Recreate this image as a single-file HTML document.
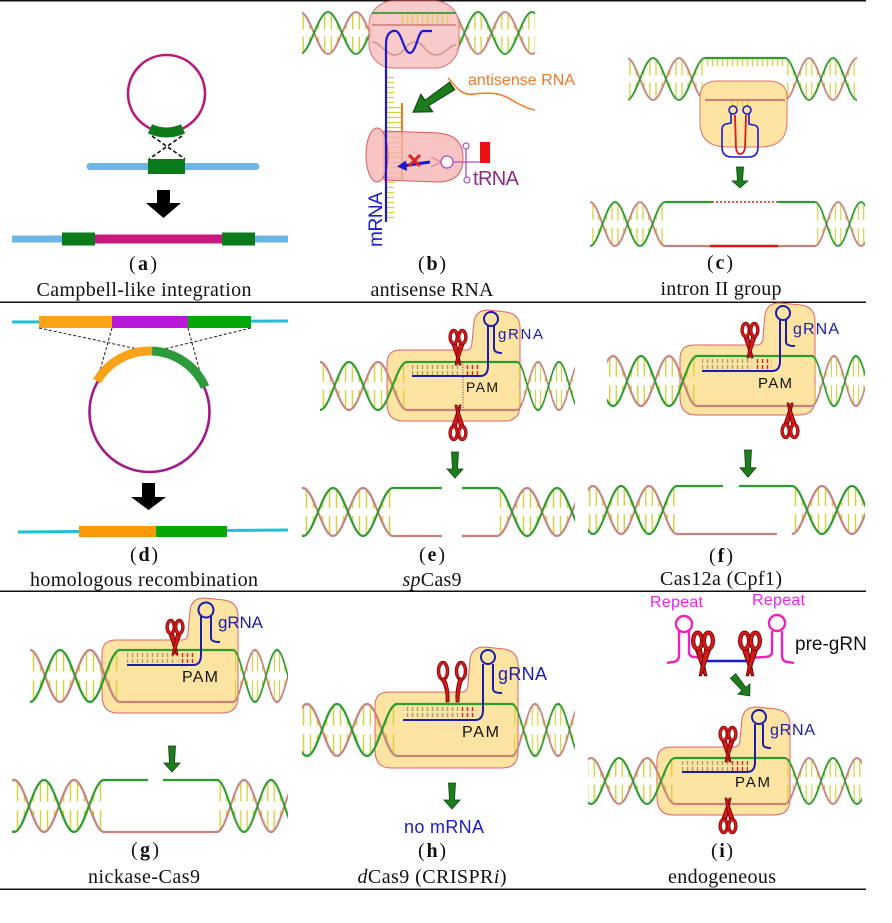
<!DOCTYPE html>
<html><head><meta charset="utf-8">
<style>
html,body{margin:0;padding:0;background:#fff}
svg{display:block}
.cap{font-family:"Liberation Serif",serif;font-size:20px;text-anchor:middle;fill:#111}
.sans{font-family:"Liberation Sans",sans-serif}
</style></head>
<body>
<svg width="892" height="923" viewBox="0 0 892 923" xmlns="http://www.w3.org/2000/svg">
<defs>
<pattern id="hx" patternUnits="userSpaceOnUse" x="0" y="0" width="60" height="52">
 <path d="M3.5,5V22M3.5,30V47M10.5,16V22M10.5,30V36M19.5,16V22M19.5,30V36M26.5,5V22M26.5,30V47M33.5,5V22M33.5,30V47M40.5,16V22M40.5,30V36M49.5,16V22M49.5,30V36M56.5,5V22M56.5,30V47" stroke="#d6d23a" stroke-width="1.5"/>
 <path d="M0,50C10.9,50 19.1,2 30,2C40.9,2 49.1,50 60,50" fill="none" stroke="#c4847c" stroke-width="2.2"/>
 <path d="M0,2C10.9,2 19.1,50 30,50C40.9,50 49.1,2 60,2" fill="none" stroke="#2c9c2c" stroke-width="2.2"/>
</pattern>
<pattern id="vo" patternUnits="userSpaceOnUse" width="5" height="40"><path d="M2.5,0V40" stroke="#a99d6c" stroke-width="1.4"/></pattern>
<pattern id="vr" patternUnits="userSpaceOnUse" width="5" height="40"><path d="M2.5,0V40" stroke="#d42424" stroke-width="1.4"/></pattern>
<pattern id="vy" patternUnits="userSpaceOnUse" width="5" height="40"><path d="M2.5,0V40" stroke="#d6d23a" stroke-width="1.4"/></pattern>
<pattern id="hy" patternUnits="userSpaceOnUse" width="40" height="5"><path d="M0,2.5H40" stroke="#d6d23a" stroke-width="1.2"/></pattern>
<g id="sc">
 <path d="M-6.5,13 L-1.5,13 L3,35 L1.2,35 Z" fill="#d41a1a" stroke="#6e0000" stroke-width=".8"/>
 <path d="M6.5,13 L1.5,13 L-3,35 L-1.2,35 Z" fill="#d41a1a" stroke="#6e0000" stroke-width=".8"/>
 <ellipse cx="-4.3" cy="7" rx="3.6" ry="6.5" fill="none" stroke="#7a0000" stroke-width="3.4"/>
 <ellipse cx="-4.3" cy="7" rx="3.6" ry="6.5" fill="none" stroke="#d41a1a" stroke-width="2"/>
 <ellipse cx="4.3" cy="7" rx="3.6" ry="6.5" fill="none" stroke="#7a0000" stroke-width="3.4"/>
 <ellipse cx="4.3" cy="7" rx="3.6" ry="6.5" fill="none" stroke="#d41a1a" stroke-width="2"/>
</g>
<path id="ga" d="M-3.5,0 L3.5,0 L2.5,17 L8,17 L0,26 L-8,17 L-2.5,17 Z" fill="#1e7b1e" stroke="#0b4a0b" stroke-width="0.8"/>
<clipPath id="clipR"><rect x="0" y="0" width="866" height="923"/></clipPath>
</defs>

<!-- separators -->
<rect x="0" y="0" width="866" height="1.5" fill="#111"/>
<rect x="0" y="301.5" width="866" height="1.5" fill="#111"/>
<rect x="0" y="590.5" width="866" height="1.5" fill="#111"/>
<rect x="0" y="888.5" width="866" height="1.5" fill="#111"/>

<!-- ===== (a) ===== -->
<circle cx="166.5" cy="93.5" r="38.5" fill="none" stroke="#b8177c" stroke-width="2.6"/>
<path d="M150,128.8 A39,39 0 0 0 183,128.8" fill="none" stroke="#0d7a1a" stroke-width="10"/>
<path d="M152,136 L185,159 M182,136 L149,159" stroke="#111" stroke-width="1.6" stroke-dasharray="4,2.5" fill="none"/>
<path d="M90,166.5 H256" stroke="#6cb6e6" stroke-width="7" stroke-linecap="round"/>
<rect x="148" y="159" width="37" height="15" fill="#0b7a1b"/>
<path d="M157,190 L170,190 L170,203 L181,203 L163.5,218 L146,203 L157,203 Z" fill="#000"/>
<path d="M12,239 H288" stroke="#6cb6e6" stroke-width="7"/>
<rect x="95" y="234.5" width="127" height="9" fill="#c8197c"/>
<rect x="62" y="232.5" width="33" height="13" fill="#0b7a1b"/>
<rect x="222" y="232.5" width="33" height="13" fill="#0b7a1b"/>
<text class="cap" x="143" y="270" textLength="28">(<tspan font-weight="bold">a</tspan>)</text>
<text class="cap" x="144" y="296" textLength="215">Campbell-like integration</text>

<!-- ===== (b) ===== -->
<g transform="translate(328,10.25) scale(0.933,0.875)"><rect x="-27.9" y="0" width="75" height="52" fill="url(#hx)"/></g>
<g transform="translate(478,10.25) scale(0.9,0.875)"><rect x="-24.4" y="0" width="87.8" height="52" fill="url(#hx)"/></g>
<rect x="369" y="1" width="90" height="67" rx="24" fill="#f7c3c3" fill-opacity="0.88" stroke="#e07070" stroke-width="1"/>
<path d="M372,13 H456" stroke="#2c9c2c" stroke-width="2" opacity=".85"/>
<path d="M372,25 H456" stroke="#c86a6a" stroke-width="1.6" opacity=".85"/>
<rect x="400" y="14" width="52" height="10" fill="url(#vy)" opacity=".8"/>
<path d="M372,42 C380,42 386,55 395,55 C404,55 406,42 415,42 C424,42 426,55 436,55 C444,55 450,45 456,45" fill="none" stroke="#c88a84" stroke-width="1.6" opacity=".8"/>
<rect x="387" y="75" width="7" height="145" fill="url(#hy)"/>
<rect x="387" y="104" width="14" height="76" fill="url(#hy)"/>
<path d="M402,103 V180" stroke="#f07a28" stroke-width="2"/>
<path d="M384,131 L438,133 Q463,135 463,158 Q463,182 438,182 L384,180 Z" fill="#f6b4b4" fill-opacity=".8" stroke="#dd5a5a" stroke-width="1"/>
<ellipse cx="377" cy="155" rx="11" ry="27" fill="#f6b4b4" fill-opacity=".8" stroke="#dd5a5a" stroke-width="1"/>
<path d="M386,222 L386,44 C386,34 391,30 396,31 C402,33 404,53 410,53 C416,53 418,31 423,31 C427,31 430,31 432,31" fill="none" stroke="#1a1acc" stroke-width="2.2"/>
<path d="M430,162 L402,166" stroke="#1a1acc" stroke-width="3"/>
<path d="M397,166.5 L406,160.5 L407,171 Z" fill="#1a1acc"/>
<path d="M409,155 L420,166 M420,155 L409,166" stroke="#e02222" stroke-width="3"/>
<path d="M441,162 L431,157 M441,162 L431,167" stroke="#e080a0" stroke-width="1"/>
<path d="M453,162 H480 M466,149 V177" stroke="#b04cc0" stroke-width="1.3"/>
<circle cx="447" cy="162" r="6" fill="#fff" stroke="#b04cc0" stroke-width="1.3"/>
<circle cx="466" cy="146" r="3" fill="#fff" stroke="#b04cc0" stroke-width="1.2"/>
<circle cx="467" cy="180" r="3" fill="#fff" stroke="#b04cc0" stroke-width="1.2"/>
<rect x="480" y="142" width="10" height="21" fill="#ee1111"/>
<use href="#ga" transform="translate(452,86) rotate(56) scale(1.3,1.8)"/>
<path d="M448,78 C456,86 460,96 474,94 C490,92 500,93 510,99 C520,105 528,109 535,110" fill="none" stroke="#f07a28" stroke-width="1.5"/>
<text class="sans" x="468" y="85" font-size="16" fill="#f07a28" textLength="107">antisense RNA</text>
<text class="sans" x="473" y="185" font-size="20" fill="#8a2a8a" textLength="46">tRNA</text>
<text class="sans" transform="translate(382,247) rotate(-90)" x="0" y="0" font-size="19" fill="#1a1acc" textLength="55">mRNA</text>
<text class="cap" x="432" y="270" textLength="28">(<tspan font-weight="bold">b</tspan>)</text>
<text class="cap" x="432" y="296" textLength="123">antisense RNA</text>

<!-- ===== (c) ===== -->
<g transform="translate(705,56.25) scale(0.867,0.875)"><rect x="-88.8" y="0" width="88.8" height="52" fill="url(#hx)"/></g>
<g transform="translate(785,56.25) scale(0.8,0.875)"><rect x="0" y="0" width="90" height="52" fill="url(#hx)"/></g>
<path d="M700,97 Q700,82 716,81 L770,81 Q787,82 787,97 L787,122 Q787,147 760,147 L727,147 Q700,147 700,122 Z" fill="#fde4a2" stroke="#e07070" stroke-width="1"/>
<path d="M705,58 H785" stroke="#2c9c2c" stroke-width="2.2"/>
<path d="M705,100 H785" stroke="#c4847c" stroke-width="2.2"/>
<rect x="707" y="59" width="76" height="7" fill="url(#vy)"/>
<rect x="728" y="101" width="24" height="6" fill="url(#vy)"/>
<path d="M731,114 L731,123 L726,124 Q722,125 722,130 L722,147 Q722,157 732,157 L749,157 Q758,157 758,147 L758,130 Q758,125 753,125 L749,124 L749,114" fill="none" stroke="#1a1acc" stroke-width="1.6"/>
<circle cx="733" cy="110" r="4" fill="none" stroke="#1a1acc" stroke-width="1.6"/>
<circle cx="747" cy="110" r="4" fill="none" stroke="#1a1acc" stroke-width="1.6"/>
<path d="M735,115 L736,148 Q737,154 740,154 Q744,154 745,148 L746,115" fill="none" stroke="#e01818" stroke-width="1.8"/>
<use href="#ga" transform="translate(740,167) scale(1,0.81)"/>
<g transform="translate(665,200.2) scale(0.833,0.917)"><rect x="-90" y="0" width="90" height="52" fill="url(#hx)"/></g>
<g transform="translate(815,200.2) scale(0.767,0.917)"><rect x="0" y="0" width="65.2" height="52" fill="url(#hx)"/></g>
<path d="M665,202 H712 M778,202 H815" stroke="#2c9c2c" stroke-width="2.2"/>
<path d="M712,202 H778" stroke="#e02020" stroke-width="1.6" stroke-dasharray="2,2"/>
<path d="M665,246 H710 M778,246 H815" stroke="#c4847c" stroke-width="2.2"/>
<path d="M710,246 H778" stroke="#dd1515" stroke-width="2.6"/>
<text class="cap" x="720" y="269" textLength="26">(<tspan font-weight="bold">c</tspan>)</text>
<text class="cap" x="721" y="295" textLength="121">intron II group</text>

<!-- ===== (d) ===== -->
<path d="M12,322 L288,321" stroke="#20c0d8" stroke-width="3"/>
<rect x="39" y="316" width="73" height="12" fill="#fba418"/>
<rect x="112" y="316" width="76" height="12" fill="#b818d8"/>
<rect x="188" y="316" width="63" height="12" fill="#06a806"/>
<path d="M39,328 L152,352 M112,328 L97,381 M188,328 L204,387 M251,328 L152,352" stroke="#222" stroke-width="1" stroke-dasharray="3,2" fill="none"/>
<circle cx="149.5" cy="412" r="60" fill="none" stroke="#a01a8a" stroke-width="2.6"/>
<path d="M97,381 A61,61 0 0 1 152,351" fill="none" stroke="#f8a21a" stroke-width="9"/>
<path d="M152,351 A61,61 0 0 1 205,387" fill="none" stroke="#2b9a3a" stroke-width="9"/>
<path d="M142,483 L155,483 L155,497 L166,497 L148.5,510 L131,497 L142,497 Z" fill="#000"/>
<path d="M18,532 L288,530" stroke="#20c0d8" stroke-width="3"/>
<rect x="79" y="526" width="77" height="11" fill="#fb9a08"/>
<rect x="156" y="526" width="71" height="11" fill="#06a806"/>
<text class="cap" x="144" y="561" textLength="28">(<tspan font-weight="bold">d</tspan>)</text>
<text class="cap" x="144" y="586" textLength="228">homologous recombination</text>

<!-- ===== (e) ===== -->
<path d="M401,350 L466,350 Q472,350 472,342 L474,322 Q476,310 488,310 L506,312 Q520,314 520,328 L520,405 Q520,421 504,421 L403,421 Q387,421 387,403 L387,364 Q387,350 401,350 Z" fill="#fde4a2" stroke="#e0606a" stroke-width="1"/>
<g transform="translate(407,360) scale(0.967,1)"><rect x="-90" y="0" width="90" height="52" fill="url(#hx)"/></g>
<g transform="translate(517,360) scale(0.7,1)"><rect x="0" y="0" width="82.9" height="52" fill="url(#hx)"/></g>
<path d="M407,362 H517" stroke="#2c9c2c" stroke-width="2.2"/>
<path d="M407,410 H517" stroke="#c4847c" stroke-width="2.2"/>
<rect x="412" y="365" width="50" height="4" fill="url(#vo)"/>
<rect x="412" y="371" width="50" height="4" fill="url(#vo)"/>
<rect x="464" y="365" width="17" height="4" fill="url(#vr)"/>
<rect x="464" y="371" width="17" height="4" fill="url(#vr)"/>
<path d="M412,376 L480,376 Q488,376 488,366 L488,326 M494,326 L494,348 Q494,353 502,353" fill="none" stroke="#1c1caa" stroke-width="2"/>
<circle cx="491" cy="319" r="7" fill="none" stroke="#1c1caa" stroke-width="2"/>
<path d="M463,362 V410" stroke="#222" stroke-width="0.8" stroke-dasharray="1,1.5"/>
<text class="sans" x="466" y="392" font-size="14" fill="#111" textLength="32">PAM</text>
<text class="sans" x="498" y="339" font-size="15" fill="#1c1caa" textLength="45">gRNA</text>
<use href="#sc" transform="translate(458,330)"/>
<use href="#sc" transform="translate(458,440) scale(1,-1)"/>
<use href="#ga" transform="translate(455,452)"/>
<g transform="translate(393,486)"><rect x="-91" y="0" width="91" height="52" fill="url(#hx)"/></g>
<g transform="translate(497,486)"><rect x="0" y="0" width="78" height="52" fill="url(#hx)"/></g>
<path d="M393,488 H442 M462,488 H497" stroke="#2c9c2c" stroke-width="2.2"/>
<path d="M393,536 H442 M462,536 H497" stroke="#c4847c" stroke-width="2.2"/>
<text class="cap" x="432" y="561" textLength="26">(<tspan font-weight="bold">e</tspan>)</text>
<text class="cap" x="432" y="586" textLength="59"><tspan font-style="italic">sp</tspan>Cas9</text>

<!-- ===== (f) ===== -->
<path d="M694,345 L757,345 Q763,345 763,337 L765,315 Q767,303 779,303 L801,305 Q815,307 815,321 L815,399 Q815,415 799,415 L696,415 Q680,415 680,397 L680,359 Q680,345 694,345 Z" fill="#fde4a2" stroke="#e0606a" stroke-width="1"/>
<g transform="translate(697,353.9) scale(0.933,1.042)"><rect x="-96.5" y="0" width="96.5" height="52" fill="url(#hx)"/></g>
<g transform="translate(812,353.9) scale(0.733,1.042)"><rect x="0" y="0" width="72.3" height="52" fill="url(#hx)"/></g>
<path d="M697,356 H812" stroke="#2c9c2c" stroke-width="2.2"/>
<path d="M697,406 H812" stroke="#c4847c" stroke-width="2.2"/>
<rect x="702" y="359" width="50" height="4" fill="url(#vo)"/>
<rect x="702" y="365" width="50" height="4" fill="url(#vo)"/>
<rect x="754" y="359" width="18" height="4" fill="url(#vr)"/>
<rect x="754" y="365" width="18" height="4" fill="url(#vr)"/>
<path d="M702,371 L772,371 Q780,371 780,361 L780,320 M786,320 L786,342 Q786,346 795,346" fill="none" stroke="#1c1caa" stroke-width="2"/>
<circle cx="783" cy="313" r="7" fill="none" stroke="#1c1caa" stroke-width="2"/>
<text class="sans" x="758" y="388" font-size="15" fill="#111" textLength="34">PAM</text>
<text class="sans" x="793" y="334" font-size="16" fill="#1c1caa" textLength="46">gRNA</text>
<use href="#sc" transform="translate(750,323)"/>
<use href="#sc" transform="translate(790,438) scale(1,-1)"/>
<use href="#ga" transform="translate(748,450) scale(1,1.05)"/>
<g transform="translate(677,484) scale(0.933,1)"><rect x="-95.4" y="0" width="95.4" height="52" fill="url(#hx)"/></g>
<g transform="translate(792,484)"><rect x="0" y="0" width="73" height="52" fill="url(#hx)"/></g>
<path d="M677,486 H723 M739,486 H792" stroke="#2c9c2c" stroke-width="2.2"/>
<path d="M677,534 H777" stroke="#c4847c" stroke-width="2.2"/>
<text class="cap" x="721" y="562" textLength="24">(<tspan font-weight="bold">f</tspan>)</text>
<text class="cap" x="721" y="585" textLength="122">Cas12a (Cpf1)</text>

<!-- ===== (g) ===== -->
<path d="M116,640 L182,640 Q188,640 188,632 L190,610 Q192,598 204,598 L224,600 Q238,602 238,616 L238,697 Q238,713 222,713 L118,713 Q102,713 102,695 L102,654 Q102,640 116,640 Z" fill="#fde4a2" stroke="#e0606a" stroke-width="1"/>
<g transform="translate(120,647.8) scale(1,1.083)"><rect x="-90" y="0" width="90" height="52" fill="url(#hx)"/></g>
<g transform="translate(233,647.8) scale(0.733,1.083)"><rect x="0" y="0" width="75" height="52" fill="url(#hx)"/></g>
<path d="M120,650 H233" stroke="#2c9c2c" stroke-width="2.2"/>
<path d="M120,702 H233" stroke="#c4847c" stroke-width="2.2"/>
<rect x="127" y="653" width="50" height="4" fill="url(#vo)"/>
<rect x="127" y="659" width="50" height="4" fill="url(#vo)"/>
<rect x="178" y="653" width="17" height="4" fill="url(#vr)"/>
<rect x="178" y="659" width="17" height="4" fill="url(#vr)"/>
<path d="M127,665 L193,665 Q201,665 201,655 L201,616 M211,616 L211,638 Q211,642 220,642" fill="none" stroke="#1c1caa" stroke-width="2"/>
<circle cx="206" cy="610" r="7.5" fill="none" stroke="#1c1caa" stroke-width="2"/>
<text class="sans" x="182" y="682" font-size="16" fill="#111" textLength="36">PAM</text>
<text class="sans" x="218" y="628" font-size="17" fill="#1c1caa" textLength="45">gRNA</text>
<use href="#sc" transform="translate(175,620)"/>
<use href="#ga" transform="translate(172,746)"/>
<g transform="translate(104,777.8) scale(1,1.083)"><rect x="-92" y="0" width="92" height="52" fill="url(#hx)"/></g>
<g transform="translate(217,777.8) scale(0.9,1.083)"><rect x="0" y="0" width="78.9" height="52" fill="url(#hx)"/></g>
<path d="M104,780 H148 M163,780 H217" stroke="#2c9c2c" stroke-width="2.2"/>
<path d="M104,832 H217" stroke="#c4847c" stroke-width="2.2"/>
<text class="cap" x="145" y="856" textLength="28">(<tspan font-weight="bold">g</tspan>)</text>
<text class="cap" x="144" y="883" textLength="112">nickase-Cas9</text>

<!-- ===== (h) ===== -->
<path d="M389,692 L462,692 Q468,692 468,684 L470,659 Q472,647 484,647 L504,649 Q518,651 518,665 L518,752 Q518,768 502,768 L391,768 Q375,768 375,750 L375,706 Q375,692 389,692 Z" fill="#fde4a2" stroke="#e0606a" stroke-width="1"/>
<g transform="translate(397,701.8) scale(1,1.083)"><rect x="-95" y="0" width="95" height="52" fill="url(#hx)"/></g>
<g transform="translate(512,701.8) scale(0.767,1.083)"><rect x="0" y="0" width="82.2" height="52" fill="url(#hx)"/></g>
<path d="M397,704 H512" stroke="#2c9c2c" stroke-width="2.2"/>
<path d="M397,756 H512" stroke="#c4847c" stroke-width="2.2"/>
<rect x="403" y="707" width="55" height="4" fill="url(#vo)"/>
<rect x="403" y="713" width="55" height="4" fill="url(#vo)"/>
<rect x="460" y="707" width="16" height="4" fill="url(#vr)"/>
<rect x="460" y="713" width="16" height="4" fill="url(#vr)"/>
<path d="M403,720 L475,720 Q483,720 483,710 L483,664 M493,664 L493,689 Q493,693 502,693" fill="none" stroke="#1c1caa" stroke-width="2"/>
<circle cx="488" cy="657" r="7" fill="none" stroke="#1c1caa" stroke-width="2"/>
<text class="sans" x="462" y="737" font-size="16" fill="#111" textLength="37">PAM</text>
<text class="sans" x="498" y="680" font-size="18" fill="#1c1cb4" textLength="49">gRNA</text>
<ellipse cx="443" cy="671" rx="4.5" ry="8.5" fill="none" stroke="#7a0000" stroke-width="3.4"/>
<ellipse cx="443" cy="671" rx="4.5" ry="8.5" fill="none" stroke="#d41a1a" stroke-width="2"/>
<path d="M441,679 Q447,690 446,702 L449,702 Q450,689 445,678 Z" fill="#d41a1a" stroke="#6e0000" stroke-width=".8"/>
<ellipse cx="461" cy="671" rx="4.5" ry="8.5" fill="none" stroke="#7a0000" stroke-width="3.4"/>
<ellipse cx="461" cy="671" rx="4.5" ry="8.5" fill="none" stroke="#d41a1a" stroke-width="2"/>
<path d="M459,678 Q455,690 456,702 L459,702 Q459,690 463,679 Z" fill="#d41a1a" stroke="#6e0000" stroke-width=".8"/>
<use href="#ga" transform="translate(452,783)"/>
<text class="sans" x="404" y="833" font-size="18" fill="#1a1ad0" textLength="80">no mRNA</text>
<text class="cap" x="432" y="857" textLength="28">(<tspan font-weight="bold">h</tspan>)</text>
<text class="cap" x="432" y="883" textLength="149"><tspan font-style="italic">d</tspan>Cas9 (CRISPR<tspan font-style="italic">i</tspan>)</text>

<!-- ===== (i) ===== -->
<text class="sans" x="650" y="607" font-size="16" fill="#ee22ee" textLength="53">Repeat</text>
<text class="sans" x="752" y="605" font-size="16" fill="#ee22ee" textLength="53">Repeat</text>
<path d="M679,631 L679,655 Q679,662 672,662 L667,663 M689,631 L689,652 Q689,657 695,657 L704,658" fill="none" stroke="#ee22bb" stroke-width="2.4"/>
<circle cx="684" cy="624" r="8" fill="none" stroke="#ee22bb" stroke-width="2.4"/>
<path d="M704,661 H750" stroke="#1a1acc" stroke-width="2.4"/>
<path d="M750,658 L764,657 Q772,657 772,652 L772,631 M782,631 L782,655 Q782,662 788,662 L794,663" fill="none" stroke="#ee22bb" stroke-width="2.4"/>
<circle cx="777" cy="623" r="8" fill="none" stroke="#ee22bb" stroke-width="2.4"/>
<use href="#sc" transform="translate(703,632) scale(1.25)"/>
<use href="#sc" transform="translate(750,632) scale(1.25)"/>
<text class="sans" x="795" y="650" font-size="19" fill="#111" clip-path="url(#clipR)">pre-gRNA</text>
<use href="#ga" transform="translate(733,676) rotate(-40)"/>
<path d="M671,747 L734,747 Q740,747 740,739 L742,719 Q744,707 756,707 L776,709 Q790,711 790,725 L790,799 Q790,815 774,815 L673,815 Q657,815 657,797 L657,761 Q657,747 671,747 Z" fill="#fde4a2" stroke="#e0606a" stroke-width="1"/>
<g transform="translate(675,756.1) scale(0.933,0.958)"><rect x="-93.2" y="0" width="93.2" height="52" fill="url(#hx)"/></g>
<g transform="translate(785,756.1) scale(0.8,0.958)"><rect x="0" y="0" width="96.3" height="52" fill="url(#hx)"/></g>
<path d="M675,758 H785" stroke="#2c9c2c" stroke-width="2.2"/>
<path d="M675,804 H785" stroke="#c4847c" stroke-width="2.2"/>
<rect x="682" y="761" width="47" height="4" fill="url(#vo)"/>
<rect x="682" y="767" width="47" height="4" fill="url(#vo)"/>
<rect x="731" y="761" width="17" height="4" fill="url(#vr)"/>
<rect x="731" y="767" width="17" height="4" fill="url(#vr)"/>
<path d="M682,772 L747,772 Q755,772 755,762 L755,724 M763,724 L763,744 Q763,748 771,748" fill="none" stroke="#1c1caa" stroke-width="2"/>
<circle cx="759" cy="717" r="7" fill="none" stroke="#1c1caa" stroke-width="2"/>
<text class="sans" x="735" y="787" font-size="15" fill="#111" textLength="35">PAM</text>
<text class="sans" x="770" y="735" font-size="16" fill="#1c1caa" textLength="45">gRNA</text>
<use href="#sc" transform="translate(728,727)"/>
<use href="#sc" transform="translate(728,833) scale(1,-1)"/>
<text class="cap" x="722" y="857" textLength="22">(<tspan font-weight="bold">i</tspan>)</text>
<text class="cap" x="722" y="883" textLength="108">endogeneous</text>
</svg>
</body></html>
